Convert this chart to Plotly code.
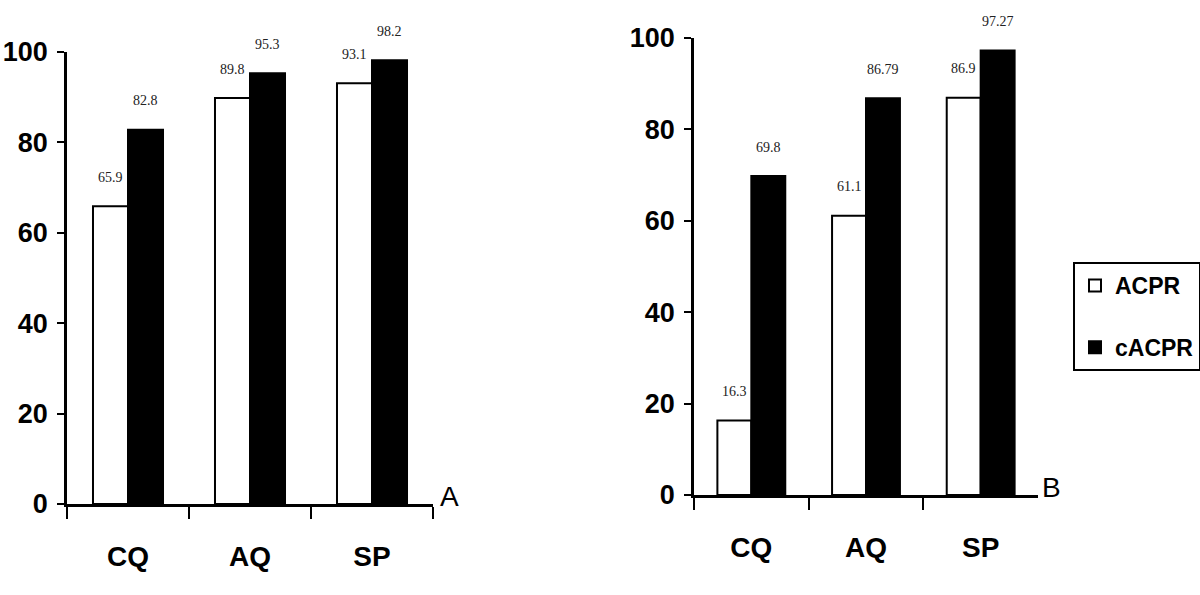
import plotly.graph_objects as go

categories = ["CQ", "AQ", "SP"]
acpr_a = [65.9, 89.8, 93.1]
cacpr_a = [82.8, 95.3, 98.2]
acpr_b = [16.3, 61.1, 86.9]
cacpr_b = [69.8, 86.79, 97.27]
labels_acpr_a = ["65.9", "89.8", "93.1"]
labels_cacpr_a = ["82.8", "95.3", "98.2"]
labels_acpr_b = ["16.3", "61.1", "86.9"]
labels_cacpr_b = ["69.8", "86.79", "97.27"]
y_ticks = [0, 20, 40, 60, 80, 100]

W, H = 1200, 595
BOLD = "Liberation Sans, Arial, sans-serif"
SERIF = "Liberation Serif, Times New Roman, serif"

# panel geometry in pixels
pA = dict(x0=67, x1=433, ytop=52, ybot=504, bw=0.287)
pB = dict(x0=694, x1=1038, ytop=38, ybot=495, bw=0.296)

fig = go.Figure()

def add_panel(p, xa, ya, acpr, cacpr, lab_a, lab_c, show):
    fig.add_trace(go.Bar(x=categories, y=acpr, name="ACPR", width=p["bw"], offset=-p["bw"],
                         marker=dict(color="white", line=dict(color="black", width=2)),
                         xaxis=xa, yaxis=ya, showlegend=show, legendgroup="g1"))
    fig.add_trace(go.Bar(x=categories, y=cacpr, name="cACPR", width=p["bw"], offset=0,
                         marker=dict(color="black", line=dict(color="black", width=2)),
                         xaxis=xa, yaxis=ya, showlegend=show, legendgroup="g2"))
    cat_px = (p["x1"] - p["x0"]) / len(categories)
    half = p["bw"] * cat_px / 2
    for c, v, t in zip(categories, acpr, lab_a):
        fig.add_annotation(x=c, y=v, xref=xa, yref=ya, text=t, showarrow=False,
                           xshift=-half, yshift=29,
                           font=dict(family=SERIF, size=14, color="#222"))
    for c, v, t in zip(categories, cacpr, lab_c):
        fig.add_annotation(x=c, y=v, xref=xa, yref=ya, text=t, showarrow=False,
                           xshift=half, yshift=29,
                           font=dict(family=SERIF, size=14, color="#222"))

add_panel(pA, "x", "y", acpr_a, cacpr_a, labels_acpr_a, labels_cacpr_a, False)
add_panel(pB, "x2", "y2", acpr_b, cacpr_b, labels_acpr_b, labels_cacpr_b, True)

def xdom(p):
    return [p["x0"] / W, p["x1"] / W]

def ydom(p):
    return [(H - p["ybot"]) / H, (H - p["ytop"]) / H]

xcommon = dict(showline=True, linecolor="black", linewidth=2.5, ticks="outside",
               tickson="boundaries", ticklen=12, tickwidth=2, tickcolor="black",
               showgrid=False, zeroline=False, ticklabelstandoff=26, automargin=False,
               tickfont=dict(family=BOLD, size=28, color="black", weight="bold"))
ycommon = dict(showline=True, linecolor="black", linewidth=2.5, ticks="outside",
               ticklen=7, tickwidth=2, tickcolor="black", range=[0, 100],
               tickvals=y_ticks, showgrid=False, zeroline=False, ticklabelstandoff=4,
               automargin=False,
               tickfont=dict(family=BOLD, size=27, color="black", weight="bold"))

fig.update_layout(
    width=W, height=H,
    margin=dict(l=0, r=0, t=0, b=0, autoexpand=False),
    paper_bgcolor="white", plot_bgcolor="white",
    barmode="overlay",
    xaxis=dict(domain=xdom(pA), anchor="y", **xcommon),
    yaxis=dict(domain=ydom(pA), anchor="x", **ycommon),
    xaxis2=dict(domain=xdom(pB), anchor="y2", **xcommon),
    yaxis2=dict(domain=ydom(pB), anchor="x2", **ycommon),
    legend=dict(x=1073 / W, y=(H - 262) / H, xanchor="left", yanchor="top",
                bgcolor="white", bordercolor="black", borderwidth=2,
                tracegroupgap=29, traceorder="grouped",
                font=dict(family=BOLD, size=23, color="black", weight="bold")),
    showlegend=True,
)

fig.add_annotation(x=449 / W, y=(H - 496) / H, xref="paper", yref="paper", text="A",
                   xanchor="center", yanchor="middle",
                   showarrow=False, font=dict(family=BOLD, size=28, color="black"))
fig.add_annotation(x=1051 / W, y=(H - 487) / H, xref="paper", yref="paper", text="B",
                   xanchor="center", yanchor="middle",
                   showarrow=False, font=dict(family=BOLD, size=28, color="black"))

fig.write_html("out.html", config={"displayModeBar": False},
               post_script="document.body.style.margin='0px';")
